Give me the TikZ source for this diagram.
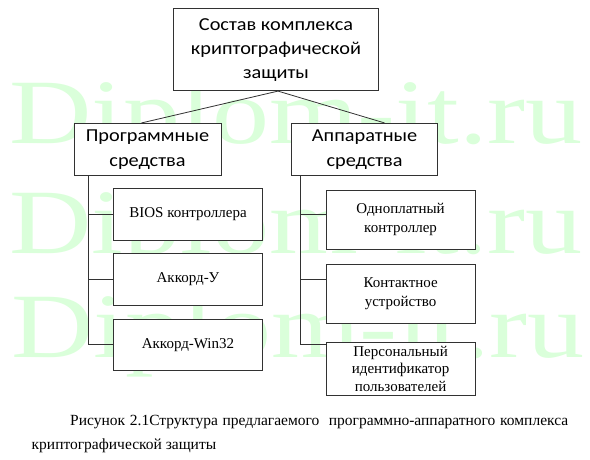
\documentclass[tikz,border=0pt]{standalone}
\usepackage{fontspec}
\setmainfont{Liberation Serif}
\newfontfamily\boxsans{Carlito}
\newfontfamily\wmfont{Liberation Serif}
\usetikzlibrary{calc}
\definecolor{wmgreen}{RGB}{218,255,218}
\definecolor{linecol}{RGB}{50,50,50}
\newcommand{\sqtext}[1]{\scalebox{1}[0.9]{\begin{tabular}{@{}c@{}}#1\end{tabular}}}
\tikzset{
  x=1pt,y=-1pt,
  headbox/.style={draw=linecol,line width=0.8pt,fill=white,align=center,inner sep=0pt,
    font=\boxsans\fontsize{20.3}{27}\selectfont},
  itembox/.style={draw=linecol,line width=0.8pt,fill=white,align=center,inner sep=0pt,
    minimum width=149pt,font=\fontsize{15}{19.5}\selectfont},
  conn/.style={draw=linecol,line width=0.8pt},
  wm/.style={anchor=base west,inner sep=0pt,text=wmgreen,font=\wmfont\fontsize{92}{92}\selectfont},
  captext/.style={anchor=base west,inner sep=0pt,font=\fontsize{15.5}{18}\selectfont}
}
\begin{document}
\begin{tikzpicture}
\useasboundingbox[fill=white] (0,0) rectangle (590,460);
% watermark
\node[wm] (wm1) at (9,143) {\scalebox{1.24}[1]{Diplom-it.ru}};
\node[wm] (wm2) at (9,253) {\scalebox{1.24}[1]{Diplom-it.ru}};
\node[wm] (wm3) at (11,357) {\scalebox{1.24}[1]{Diplom-it.ru}};
% boxes
\node[headbox,minimum width=205.5pt,minimum height=82.4pt] (top) at (276,49.5)
  {\sqtext{Состав комплекса\\криптографической\\защиты}};
\node[headbox,minimum width=147pt,minimum height=51.7pt] (prog) at (147.5,149.2)
  {\sqtext{Программные\\средства}};
\node[headbox,minimum width=146pt,minimum height=51.7pt] (app) at (364.6,149.2)
  {\sqtext{Аппаратные\\средства}};
\node[itembox,minimum height=52.4pt] (bios) at (188,214.5) {BIOS контроллера};
\node[itembox,minimum height=52.4pt] (acu) at (188,279.5) {Аккорд-У};
\node[itembox,minimum height=51.7pt] (acw) at (188,344.8) {Аккорд-Win32};
\node[itembox,minimum height=59.3pt] (odn) at (400.6,219.7) {Одноплатный\\контроллер};
\node[itembox,minimum height=59pt] (kont) at (400.6,293.8) {Контактное\\устройство};
\node[itembox,minimum height=52.7pt,font=\fontsize{15}{17.7}\selectfont] (pers) at (400.6,368.7)
  {Персональный\\идентификатор\\пользователей};
% connectors
\coordinate (apex) at ($(top.south)+(2,0)$);
\draw[conn] (apex) -- ($(prog.north)+(-6,0)$);
\draw[conn] (apex) -- ($(app.north)+(20,0)$);
\coordinate (vl) at ($(prog.south west)+(15,0)$);
\coordinate (vr) at ($(app.south west)+(9.5,0)$);
\draw[conn] (vl) -- (vl |- acw.west) -- (acw.west);
\draw[conn] (vl |- bios.west) -- (bios.west);
\draw[conn] (vl |- acu.west) -- (acu.west);
\draw[conn] (vr) -- (vr |- acw.west) -- (pers.west |- acw.west);
\draw[conn] (vr |- bios.west) -- (odn.west |- bios.west);
\draw[conn] (vr |- acu.west) -- (kont.west |- acu.west);
% caption
\node[captext] (cap1) at (70,425.5)
  {\makebox[498pt][s]{Рисунок 2.1Структура предлагаемого\ \ программно-аппаратного комплекса}};
\node[captext] (cap2) at (31.5,449) {криптографической защиты};
\end{tikzpicture}
\end{document}
